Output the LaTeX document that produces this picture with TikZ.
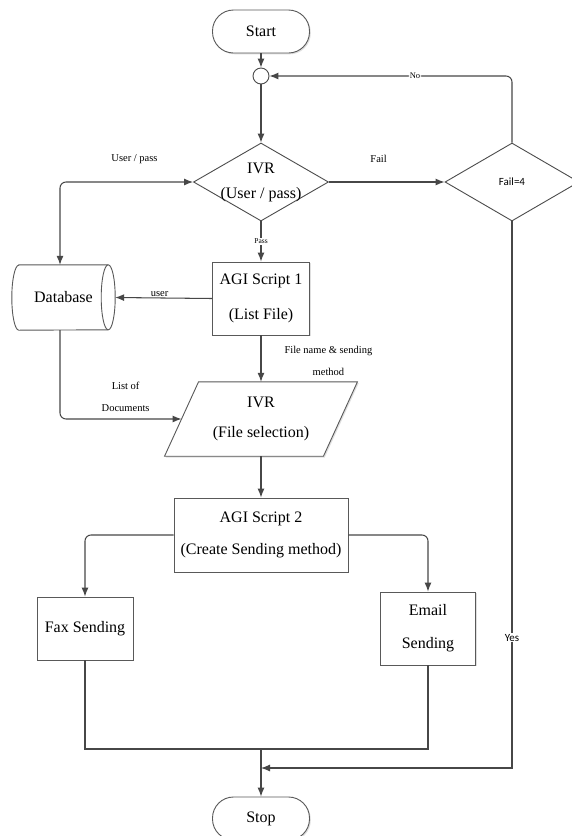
\documentclass[tikz,border=0pt]{standalone}
\usepackage{fontspec}
\setmainfont{Liberation Serif}
\newfontfamily\calib{Carlito}
\usetikzlibrary{shapes.geometric,arrows.meta,calc,shadows}
\begin{document}
\begin{tikzpicture}[x=1pt,y=1pt,
  line/.style={draw=black!72, line width=1.05pt},
  arr/.style={line, -{Latex[length=9pt,width=7pt]}},
  shd/.style={drop shadow={shadow xshift=1.3pt,shadow yshift=-1.3pt,opacity=0.25}},
  box/.style={draw=black!65, line width=0.9pt, fill=white, inner sep=0pt, align=center, shd},
  term/.style={box, rounded corners=21pt},
  dec/.style={draw=black!70, line width=0.9pt, fill=white, diamond, inner sep=0pt, minimum width=135pt, minimum height=78pt},
  bigtxt/.style={font=\fontsize{16}{34}\selectfont},
  lbl/.style={font=\fontsize{10.5}{22}\selectfont, inner sep=1pt, align=center},
  tiny/.style={font=\fontsize{8.5}{9}\selectfont, inner sep=1pt, fill=white},
  sanslbl/.style={font=\calib\fontsize{11}{12}\selectfont, inner sep=1pt, fill=white},
]
\useasboundingbox (0,0) rectangle (572,-836);
\fill[white] (0,0) rectangle (572,-836);

% nodes
\node[term, minimum width=97pt, minimum height=43pt, bigtxt] (start) at (261,-31.5) {Start};
\node[draw=black!70, line width=0.9pt, circle, minimum size=16pt, inner sep=0pt] (circ) at (261,-76) {};
\node[dec, label={[align=center, font=\fontsize{16}{25}\selectfont]center:IVR\\(User / pass)}] (ivr) at (261,-182) {};
\node[dec, minimum width=134pt, label={[font=\calib\fontsize{11}{12}\selectfont]center:Fail=4}] (fail) at (512,-182) {};
\node[box, minimum width=97pt, minimum height=73pt, font=\fontsize{16}{35}\selectfont] (agi1) at (261,-298.5) {AGI Script 1\\(List File)};
\node[minimum width=103pt, minimum height=65pt, inner sep=0pt, bigtxt] (db) at (63.5,-297.5) {Database};
\node[minimum width=158.5pt, minimum height=74pt, inner sep=0pt, align=center, font=\fontsize{16}{30}\selectfont] (ivr2) at (261,-419) {};
\node[box, minimum width=174pt, minimum height=74pt, font=\fontsize{16}{32}\selectfont] (agi2) at (261,-535) {AGI Script 2\\(Create Sending method)};
\node[box, minimum width=96pt, minimum height=63pt, bigtxt] (fax) at (85,-628.5) {Fax Sending};
\node[box, minimum width=95pt, minimum height=73pt, font=\fontsize{16}{33}\selectfont] (email) at (428,-628.5) {Email\\Sending};
\node[term, minimum width=97pt, minimum height=43pt, bigtxt] (stop) at (261,-818.5) {Stop};

% database shape
\draw[draw=black!65, line width=0.9pt]
  ($(db.north west)+(7,0)$) -- ($(db.north east)+(-7,0)$)
  arc[start angle=90, end angle=-90, x radius=7pt, y radius=32.5pt]
  -- ($(db.south west)+(7,0)$)
  arc[start angle=270, end angle=90, x radius=7pt, y radius=32.5pt] -- cycle;
\draw[draw=black!65, line width=0.9pt] ($(db.north east)+(-7,0)$)
  arc[start angle=90, end angle=270, x radius=7pt, y radius=32.5pt];

% parallelogram shape
\draw[draw=black!65, line width=0.9pt, fill=white, shd]
  ($(ivr2.north west)+(17,0)$) -- ($(ivr2.north east)+(17,0)$)
  -- ($(ivr2.south east)+(-17,0)$) -- ($(ivr2.south west)+(-17,0)$) -- cycle;
\node[inner sep=0pt, align=center, font=\fontsize{16}{30}\selectfont] (ivr2t) at (ivr2) {IVR\\(File selection)};

% junction points
\coordinate (j1) at (261,-749);
\coordinate (j2) at (261,-768);
\coordinate (dbtop) at ($(db.north)+(-3.5,0)$);
\coordinate (dbbot) at ($(db.south)+(-3.5,0)$);

% connectors
\draw[arr] (start) -- (circ);
\draw[arr] (circ) -- (ivr.north);
\draw[arr] (ivr.east) -- node[lbl, pos=0.43, yshift=23pt] {Fail} (fail.west);
\draw[arr, rounded corners=6pt] (fail.north) |- node[tiny, pos=0.7] {No} (circ.east);
\draw[arr] (fail.south) |- node[sanslbl, pos=0.381] {Yes} (j2);
\draw[line, {Latex[length=9pt,width=7pt]}-{Latex[length=9pt,width=7pt]}, rounded corners=6pt]
  (dbtop) |- node[lbl, pos=0.78, yshift=23pt] {User / pass} (ivr.west);
\draw[arr] (ivr.south) -- node[tiny, font=\fontsize{7.5}{9}\selectfont] {Pass} (agi1.north);
\draw[arr] (agi1.west) -- node[lbl, above, xshift=-4pt] {user} (db.east);
\draw[arr] (agi1.south) -- node[lbl, anchor=west, xshift=22pt, yshift=-2.5pt] {File name \& sending\\method} (ivr2.north);
\draw[arr, rounded corners=6pt] (dbbot) |- node[lbl, pos=0.77, yshift=22pt] {List of\\Documents} (ivr2.west);
\draw[arr] (ivr2.south) -- (agi2.north);
\draw[arr, rounded corners=6pt] (agi2.west) -| (fax.north);
\draw[arr, rounded corners=6pt] (agi2.east) -| (email.north);
\draw[line] (fax.south) |- (j1) -| (email.south);
\draw[arr] (j1) -- (stop.north);
\end{tikzpicture}
\end{document}
